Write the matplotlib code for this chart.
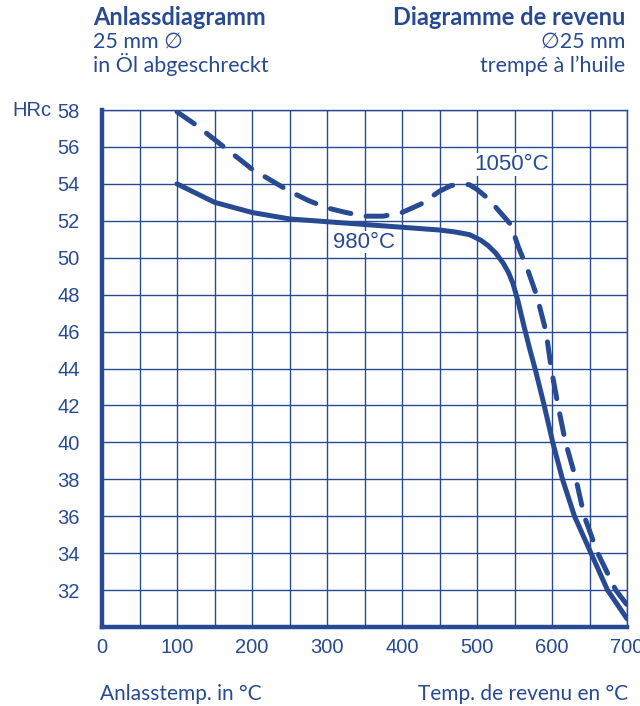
import numpy as np
import matplotlib
matplotlib.use("Agg")
import matplotlib.pyplot as plt

BLUE = "#284a92"
plt.rcParams["font.family"] = ["Liberation Sans", "DejaVu Sans"]

# tempering temperature (degC) / hardness (HRc)
temp_980 = [100, 150, 200, 250, 300, 350, 400, 450, 470, 490, 505, 515, 525,
            535, 542, 548, 555, 562, 570, 578, 589, 601, 614, 630, 652, 674,
            700]
hrc_980 = [54.0, 53.0, 52.45, 52.1, 51.95, 51.8, 51.65, 51.5, 51.4, 51.25,
           50.95, 50.65, 50.25, 49.7, 49.2, 48.6, 47.6, 46.4, 45.1, 43.9, 42.1,
           40.0, 38.0, 36.0, 34.0, 32.0, 30.45]

temp_1050 = [100, 125, 150, 175, 200, 225, 250, 275, 300, 325, 350, 375, 400,
             425, 450, 465, 480, 490, 500, 515, 530, 545, 555, 568, 580, 592,
             599, 608, 618, 632, 643, 661, 685, 700]
hrc_1050 = [57.9, 57.2, 56.4, 55.6, 54.8, 54.2, 53.6, 53.1, 52.7, 52.45, 52.25,
            52.25, 52.45, 52.9, 53.6, 53.9, 54.0, 53.95, 53.7, 53.2, 52.5, 51.8,
            50.6, 49.3, 47.9, 46.0, 44.0, 42.0, 40.0, 38.0, 36.0, 34.0, 32.0,
            31.2]

x_ticks = [0, 100, 200, 300, 400, 500, 600, 700]
y_ticks = [32, 34, 36, 38, 40, 42, 44, 46, 48, 50, 52, 54, 56, 58]


def main():
    fig = plt.figure(figsize=(6.4, 7.06), dpi=100)
    ax = fig.add_axes([102 / 640, 1 - 627 / 706, 525 / 640, 517 / 706])
    ax.set_xlim(0, 700)
    ax.set_ylim(30, 58)

    ax.set_xticks(x_ticks)
    ax.set_yticks(y_ticks)
    # grid every 50 degC / 2 HRc
    ax.set_xticks(np.arange(50, 701, 100), minor=True)
    ax.grid(True, which="both", color=BLUE, lw=1.0)
    ax.axhline(30, color=BLUE, lw=1.0)
    ax.set_axisbelow(True)

    ax.tick_params(which="both", length=0, colors=BLUE, labelsize=14.5)
    ax.tick_params(axis="x", pad=8)
    ax.tick_params(axis="y", pad=16)

    for side in ["top", "right"]:
        ax.spines[side].set_color(BLUE)
        ax.spines[side].set_linewidth(1.0)
    for side in ["left", "bottom"]:
        ax.spines[side].set_color(BLUE)
        ax.spines[side].set_linewidth(3.2)

    ax.plot(temp_980, hrc_980, color=BLUE, lw=3.6, solid_capstyle="round",
            solid_joinstyle="round", zorder=3)
    ax.plot(temp_1050, hrc_1050, color=BLUE, lw=3.6, dashes=(4.2, 3.1),
            dash_capstyle="round", dash_joinstyle="round", zorder=3)

    box = dict(facecolor="white", edgecolor="none", pad=0.5)
    ax.text(349, 50.85, "980°C", color=BLUE, fontsize=16,
            ha="center", va="center", bbox=box, zorder=4)
    ax.text(546, 55.05, "1050°C", color=BLUE, fontsize=16,
            ha="center", va="center", bbox=box, zorder=4)

    fig.text(12 / 640, 1 - 110 / 706, "HRc", color=BLUE, fontsize=14.5,
             ha="left", va="center")

    # headings
    tf = ["Lato", "DejaVu Sans"]
    fig.text(93 / 640, 1 - 25 / 706, "Anlassdiagramm", color=BLUE, fontsize=17,
             fontweight="bold", family=tf, ha="left", va="baseline")
    fig.text(93 / 640, 1 - 48 / 706, "25 mm ∅", color=BLUE, fontsize=15.5,
             family=tf, ha="left", va="baseline")
    fig.text(93 / 640, 1 - 72 / 706, "in Öl abgeschreckt", color=BLUE, fontsize=15.5,
             family=tf, ha="left", va="baseline")
    fig.text(625 / 640, 1 - 25 / 706, "Diagramme de revenu", color=BLUE, fontsize=17,
             fontweight="bold", family=tf, ha="right", va="baseline")
    fig.text(625 / 640, 1 - 48 / 706, "∅25 mm", color=BLUE, fontsize=15.5,
             family=tf, ha="right", va="baseline")
    fig.text(625 / 640, 1 - 72 / 706, "trempé à l’huile", color=BLUE, fontsize=15.5,
             family=tf, ha="right", va="baseline")

    fig.text(100 / 640, 1 - 700 / 706, "Anlasstemp. in °C", color=BLUE, fontsize=15,
             family=tf, ha="left", va="baseline")
    fig.text(628 / 640, 1 - 700 / 706, "Temp. de revenu en °C", color=BLUE,
             fontsize=15, family=tf, ha="right", va="baseline")

    fig.savefig("out.png", dpi=100)


if __name__ == "__main__":
    main()
